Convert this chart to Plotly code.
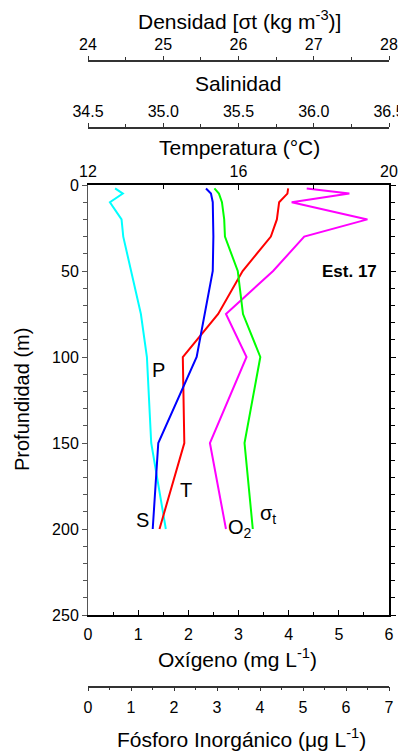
import plotly.graph_objects as go

# ---- data ----
depth = [2, 5, 10, 20, 30, 50, 75, 100, 150, 200]
oxygen = [4.36, 5.21, 4.06, 5.57, 4.31, 3.69, 2.75, 3.16, 2.43, 2.75]          # mg/L
phosphorus = [0.63, 0.81, 0.51, 0.78, 0.82, 1.01, 1.23, 1.37, 1.47, 1.81]      # ug/L
temperature = [17.32, 17.30, 17.08, 17.02, 16.86, 16.11, 15.46, 14.52, 14.56, 13.90]
salinity = [35.284, 35.317, 35.329, 35.333, 35.333, 35.329, 35.273, 35.222, 34.967, 34.930]
sigma_t = [25.68, 25.74, 25.78, 25.81, 25.82, 25.99, 26.06, 26.29, 26.08, 26.19]

# the page body has an 8 px margin; the figure covers page pixels 8..406 x 8..755
OFF = 8
W, H = 406 - OFF, 755 - OFF
def px(x):
    return (x - OFF) / W
def py(y):
    return 1 - (y - OFF) / H

FONT = "Liberation Sans"
xd = [px(88), px(389)]
yd = [py(615), py(185)]

fig = go.Figure()
fig.add_trace(go.Scatter(x=oxygen, y=depth, xaxis="x", yaxis="y", mode="lines",
                         line=dict(color="#FF00FF", width=2), showlegend=False))
fig.add_trace(go.Scatter(x=phosphorus, y=depth, xaxis="x2", yaxis="y", mode="lines",
                         line=dict(color="#00FFFF", width=2), showlegend=False))
fig.add_trace(go.Scatter(x=temperature, y=depth, xaxis="x3", yaxis="y", mode="lines",
                         line=dict(color="#FF0000", width=2), showlegend=False))
fig.add_trace(go.Scatter(x=salinity, y=depth, xaxis="x4", yaxis="y", mode="lines",
                         line=dict(color="#0000FF", width=2), showlegend=False))
fig.add_trace(go.Scatter(x=sigma_t, y=depth, xaxis="x5", yaxis="y", mode="lines",
                         line=dict(color="#00FF00", width=2), showlegend=False))
# invisible trace to carry the right-hand y axis
fig.add_trace(go.Scatter(x=oxygen, y=depth, xaxis="x", yaxis="y2", mode="lines",
                         line=dict(color="rgba(0,0,0,0)", width=0), showlegend=False,
                         hoverinfo="skip"))

tickfont = dict(family=FONT, size=16, color="black")
common = dict(domain=xd, showgrid=False, zeroline=False, showline=True,
              linecolor="black", tickfont=tickfont, tickcolor="black", ticklen=5,
              automargin=False)

layout_axes = dict(
    xaxis=dict(common, anchor="y", side="bottom", range=[0, 6], dtick=1, tick0=0,
               ticks="inside", linewidth=2, ticklabelstandoff=4,
               minor=dict(dtick=0.5, ticks="inside", ticklen=3, tickcolor="black")),
    xaxis2=dict(common, overlaying="x", anchor="free", position=py(686.7), side="bottom",
                range=[0, 7], dtick=1, tick0=0, ticks="outside", ticklen=4, linewidth=1.5,
                linecolor="#333", tickcolor="#333", ticklabelstandoff=2,
                minor=dict(dtick=0.5, ticks="outside", ticklen=3, tickcolor="#333")),
    xaxis3=dict(common, overlaying="x", anchor="y", side="top", range=[12, 20], dtick=4,
                tick0=12, ticks="inside", linewidth=2,
                minor=dict(dtick=2, ticks="inside", ticklen=4, tickcolor="black")),
    xaxis4=dict(common, overlaying="x", anchor="free", position=py(127.7), side="top",
                range=[34.5, 36.5], dtick=0.5, tick0=34.5, tickformat=".1f",
                ticks="outside", ticklen=4, linewidth=1.5, linecolor="#333", tickcolor="#333",
                minor=dict(dtick=0.25, ticks="outside", ticklen=3, tickcolor="#333")),
    xaxis5=dict(common, overlaying="x", anchor="free", position=py(60.7), side="top",
                range=[24, 28], dtick=1, tick0=24, ticks="outside", ticklen=4,
                linewidth=1.5, linecolor="#333", tickcolor="#333",
                minor=dict(dtick=0.5, ticks="outside", ticklen=3, tickcolor="#333")),
    yaxis=dict(domain=yd, anchor="x", side="left", range=[250, 0], dtick=50, tick0=0,
               showgrid=False, zeroline=False, showline=True, linecolor="#555",
               linewidth=1, ticks="outside", ticklen=5, tickcolor="#555",
               tickfont=tickfont, automargin=False,
               minor=dict(dtick=10, ticks="outside", ticklen=4, tickcolor="#555")),
    yaxis2=dict(domain=yd, overlaying="y", anchor="x", side="right", range=[250, 0],
                dtick=50, tick0=0, showgrid=False, zeroline=False, showline=True,
                linecolor="black", linewidth=2, ticks="outside", ticklen=5,
                tickcolor="black", showticklabels=False, automargin=False,
                minor=dict(dtick=10, ticks="outside", ticklen=4, tickcolor="black")),
)

def ann(text, x, y, size=21, bold=False, angle=0):
    return dict(text=("<b>%s</b>" % text) if bold else text, x=px(x), y=py(y),
                xref="paper", yref="paper", showarrow=False, textangle=angle,
                xanchor="center", yanchor="middle",
                font=dict(family=FONT, size=size, color="black"))

annotations = [
    ann("Densidad [σt (kg m<sup>-3</sup>)]", 239, 20),
    ann("Salinidad", 238, 83),
    ann("Temperatura (°C)", 239, 147),
    ann("Oxígeno (mg L<sup>-1</sup>)", 238, 658),
    ann("Fósforo Inorgánico (μg L<sup>-1</sup>)", 241, 738),
    ann("Profundidad (m)", 22, 400, size=20, angle=-90),
    ann("Est. 17", 349, 272, size=17, bold=True),
    ann("P", 158, 370, size=20),
    ann("T", 186, 490, size=20),
    ann("S", 142, 520, size=20),
    ann("O<sub>2</sub>", 240, 528, size=20),
    ann("σ<sub>t</sub>", 268, 514, size=20),
]

fig.update_layout(width=W, height=H, margin=dict(l=0, r=0, t=0, b=0, autoexpand=False),
                  paper_bgcolor="white", plot_bgcolor="white",
                  annotations=annotations, **layout_axes)

fig.write_html("out.html")
